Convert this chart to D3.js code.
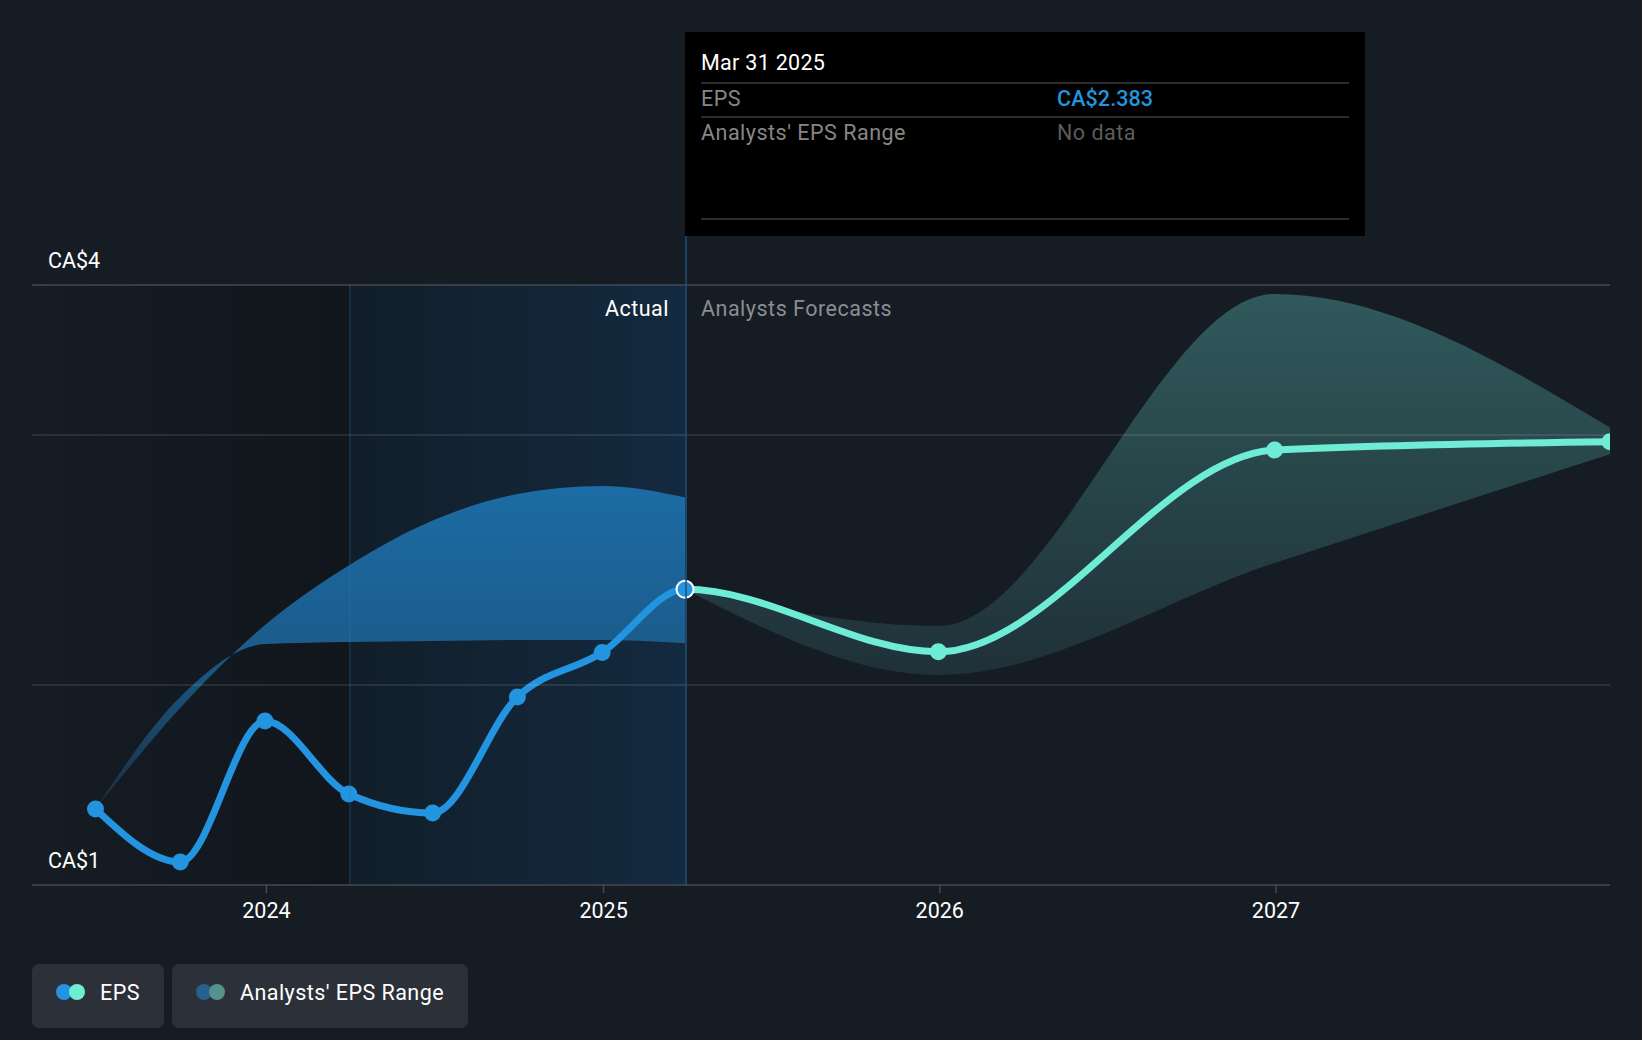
<!DOCTYPE html>
<html>
<head>
<meta charset="utf-8">
<script src="https://cdn.jsdelivr.net/npm/d3@7"></script>
<style>
  body { margin: 0; background: #151c24; }
  svg { display: block; }
  text { font-family: Roboto, sans-serif; }
  .tick text { font-family: Roboto, sans-serif; }
</style>
</head>
<body>
<div id="chart"></div>
<script>
  // Define SVG area dimensions
  var svgWidth = 1642;
  var svgHeight = 1040;

  var parseDate = d3.timeParse("%Y-%m-%d");

  // EPS, reported quarters then the yearly consensus forecast
  var epsData = [
    { date: "2023-06-30", eps: 1.38 },
    { date: "2023-09-30", eps: 1.115 },
    { date: "2023-12-31", eps: 1.82 },
    { date: "2024-03-31", eps: 1.455 },
    { date: "2024-06-30", eps: 1.36 },
    { date: "2024-09-30", eps: 1.94 },
    { date: "2024-12-31", eps: 2.13 },
    { date: "2025-03-31", eps: 2.383 },
    { date: "2025-12-31", eps: 2.133 },
    { date: "2026-12-31", eps: 2.94 },
    { date: "2027-12-31", eps: 2.973 }
  ];

  // Analysts' range over the actual period
  var pastRange = [
    { date: "2023-06-30", high: 1.38, low: 1.38 },
    { date: "2023-09-30", high: 1.885, low: 1.94 },
    { date: "2023-12-31", high: 2.24, low: 2.164 },
    { date: "2024-03-31", high: 2.478, low: 2.172 },
    { date: "2024-06-30", high: 2.658, low: 2.176 },
    { date: "2024-09-30", high: 2.764, low: 2.18 },
    { date: "2024-12-31", high: 2.796, low: 2.18 },
    { date: "2025-03-31", high: 2.75, low: 2.167 }
  ];

  // Analysts' range over the forecast period
  var forecastRange = [
    { date: "2025-03-31", high: 2.383, low: 2.383 },
    { date: "2025-12-31", high: 2.236, low: 2.04 },
    { date: "2026-12-31", high: 3.94, low: 2.488 },
    { date: "2027-12-31", high: 3.047, low: 2.924 }
  ];

  [epsData, pastRange, forecastRange].forEach(function(rows) {
    rows.forEach(function(d) { d.date = parseDate(d.date); });
  });

  var svg = d3.select("#chart")
    .append("svg")
    .attr("width", svgWidth)
    .attr("height", svgHeight);

  // Scales
  var xScale = d3.scaleTime()
    .domain([parseDate("2023-04-21"), parseDate("2027-12-29")])
    .range([31, 1609]);

  // the y axis of the source is not evenly spaced between its grid lines
  var yScale = d3.scaleLinear()
    .domain([1, 2, 3, 4])
    .range([885, 685, 435, 285]);

  var nowDate = parseDate("2025-03-31");
  var oneYearAgo = parseDate("2024-03-31");
  var plotLeft = 32;
  var plotRight = 1610;

  // Gradients
  var defs = svg.append("defs");

  function addGradient(id, x1, y1, x2, y2, stops) {
    var g = defs.append("linearGradient")
      .attr("id", id)
      .attr("gradientUnits", "userSpaceOnUse")
      .attr("x1", x1).attr("y1", y1)
      .attr("x2", x2).attr("y2", y2);
    stops.forEach(function(s) {
      g.append("stop").attr("offset", s[0]).attr("stop-color", s[1]);
    });
  }

  addGradient("pastShade", plotLeft, 0, xScale(oneYearAgo) + 1, 0,
    [[0, "#151c24"], [1, "#11161c"]]);
  addGradient("actualShade", xScale(oneYearAgo) + 1, 0, xScale(nowDate) + 1, 0,
    [[0, "#111e29"], [1, "#142a40"]]);
  addGradient("blueBand", 0, 486, 0, 808,
    [[0, "#1c6ca5"], [0.5, "#1b5c8b"], [1, "#1a2f42"]]);
  addGradient("tealBand", 0, 294, 0, 675,
    [[0, "#30595b"], [1, "#1f3138"]]);

  function addClip(id, x0, x1) {
    defs.append("clipPath").attr("id", id)
      .append("rect")
      .attr("x", x0).attr("y", 0)
      .attr("width", x1 - x0).attr("height", svgHeight);
  }

  addClip("plotClip", plotLeft, plotRight);
  addClip("actualClip", plotLeft, xScale(nowDate));
  addClip("forecastClip", xScale(nowDate), plotRight);

  // Shaded periods
  svg.append("rect")
    .attr("x", plotLeft)
    .attr("y", yScale(4))
    .attr("width", xScale(oneYearAgo) + 1 - plotLeft)
    .attr("height", yScale(1) - yScale(4))
    .attr("fill", "url(#pastShade)");

  svg.append("rect")
    .attr("x", xScale(oneYearAgo) + 1)
    .attr("y", yScale(4))
    .attr("width", xScale(nowDate) - xScale(oneYearAgo))
    .attr("height", yScale(1) - yScale(4))
    .attr("fill", "url(#actualShade)");

  // Analysts' range areas
  var rangeArea = d3.area()
    .x(d => xScale(d.date))
    .y0(d => yScale(d.low))
    .y1(d => yScale(d.high))
    .curve(d3.curveMonotoneX);

  var plot = svg.append("g").attr("clip-path", "url(#plotClip)");

  plot.append("path")
    .datum(pastRange)
    .attr("d", rangeArea)
    .attr("fill", "url(#blueBand)");

  plot.append("path")
    .datum(forecastRange)
    .attr("d", rangeArea)
    .attr("fill", "url(#tealBand)");

  // Grid lines
  svg.selectAll(".grid")
    .data([2, 3])
    .enter()
    .append("line")
    .attr("class", "grid")
    .attr("x1", plotLeft)
    .attr("x2", plotRight)
    .attr("y1", d => yScale(d))
    .attr("y2", d => yScale(d))
    .attr("stroke", "#ffffff")
    .attr("stroke-opacity", 0.13)
    .attr("stroke-width", 1.5);

  svg.selectAll(".edge")
    .data([1, 4])
    .enter()
    .append("line")
    .attr("class", "edge")
    .attr("x1", plotLeft)
    .attr("x2", plotRight)
    .attr("y1", d => yScale(d))
    .attr("y2", d => yScale(d))
    .attr("stroke", "#444952")
    .attr("stroke-width", 1.5);

  // Period dividers
  svg.append("line")
    .attr("x1", xScale(oneYearAgo) + 1).attr("x2", xScale(oneYearAgo) + 1)
    .attr("y1", yScale(4)).attr("y2", yScale(1))
    .attr("stroke", "#2f7ab5")
    .attr("stroke-opacity", 0.28)
    .attr("stroke-width", 1.5);

  svg.append("line")
    .attr("x1", xScale(nowDate) + 1).attr("x2", xScale(nowDate) + 1)
    .attr("y1", 236).attr("y2", yScale(1))
    .attr("stroke", "#1f5078")
    .attr("stroke-width", 1.5);

  // X axis
  var bottomAxis = d3.axisBottom(xScale)
    .tickValues([2024, 2025, 2026, 2027].map(y => new Date(y, 0, 1)))
    .tickFormat(d3.timeFormat("%Y"))
    .tickSize(8)
    .tickPadding(10);

  var xAxis = svg.append("g")
    .attr("transform", `translate(0, ${yScale(1)})`)
    .call(bottomAxis);

  xAxis.select(".domain").remove();
  xAxis.selectAll(".tick line").attr("stroke", "#444952").attr("stroke-width", 1.5);
  xAxis.selectAll(".tick text")
    .attr("fill", "#ffffff")
    .attr("font-size", 21.5);

  // Y labels sit above the line they belong to
  svg.selectAll(".yLabel")
    .data([1, 4])
    .enter()
    .append("text")
    .attr("class", "yLabel")
    .attr("x", 48)
    .attr("y", d => yScale(d) - 17)
    .attr("fill", "#ffffff")
    .attr("font-size", 21.5)
    .text(d => `CA$${d}`);

  // Period labels
  svg.append("text")
    .attr("x", xScale(nowDate) - 16)
    .attr("y", 316)
    .attr("text-anchor", "end")
    .attr("fill", "#ffffff")
    .attr("font-size", 21.5)
    .attr("letter-spacing", 0.5)
    .text("Actual");

  svg.append("text")
    .attr("x", xScale(nowDate) + 16)
    .attr("y", 316)
    .attr("fill", "#8a8d91")
    .attr("font-size", 21.5)
    .attr("letter-spacing", 0.5)
    .text("Analysts Forecasts");

  // EPS line, one curve coloured on either side of the last report
  var epsLine = d3.line()
    .x(d => xScale(d.date))
    .y(d => yScale(d.eps))
    .curve(d3.curveMonotoneX);

  plot.append("path")
    .datum(epsData)
    .attr("d", epsLine)
    .attr("clip-path", "url(#forecastClip)")
    .attr("fill", "none")
    .attr("stroke", "#6fecd6")
    .attr("stroke-width", 7);

  plot.append("path")
    .datum(epsData)
    .attr("d", epsLine)
    .attr("clip-path", "url(#actualClip)")
    .attr("fill", "none")
    .attr("stroke", "#2394df")
    .attr("stroke-width", 7);

  plot.selectAll(".epsDot")
    .data(epsData)
    .enter()
    .append("circle")
    .attr("class", "epsDot")
    .attr("cx", d => Math.min(xScale(d.date), plotRight))
    .attr("cy", d => yScale(d.eps))
    .attr("r", 8.5)
    .attr("fill", d => d.date > nowDate ? "#6fecd6" : "#2394df")
    .attr("stroke", d => d.date.getTime() === nowDate.getTime() ? "#ffffff" : "none")
    .attr("stroke-width", 2);

  // Tooltip
  var tooltip = svg.append("g").attr("class", "tooltip");

  tooltip.append("rect")
    .attr("x", 685).attr("y", 32)
    .attr("width", 680).attr("height", 204)
    .attr("fill", "#000000");

  tooltip.selectAll("line")
    .data([83, 117, 219])
    .enter()
    .append("line")
    .attr("x1", 701).attr("x2", 1349)
    .attr("y1", d => d).attr("y2", d => d)
    .attr("stroke", "#3a3a3a")
    .attr("stroke-width", 1.5);

  var tipRows = [
    { x: 701, y: 70, text: "Mar 31 2025", fill: "#ffffff", weight: 400, spacing: 0.3 },
    { x: 701, y: 106, text: "EPS", fill: "#868686", weight: 400, spacing: 0.45 },
    { x: 1057, y: 106, text: "CA$2.383", fill: "#2394df", weight: 500, spacing: 0.1 },
    { x: 701, y: 140, text: "Analysts' EPS Range", fill: "#868686", weight: 400, spacing: 0.5 },
    { x: 1057, y: 140, text: "No data", fill: "#5c5c5c", weight: 400, spacing: 0.5 }
  ];

  tooltip.selectAll("text")
    .data(tipRows)
    .enter()
    .append("text")
    .attr("x", d => d.x)
    .attr("y", d => d.y)
    .attr("fill", d => d.fill)
    .attr("font-weight", d => d.weight)
    .attr("letter-spacing", d => d.spacing)
    .attr("font-size", 21.5)
    .text(d => d.text);

  // Legend
  var legendItems = [
    { x: 32, w: 132, label: "EPS", colors: ["#2394df", "#6fecd6"] },
    { x: 172, w: 296, label: "Analysts' EPS Range", colors: ["#27608c", "#53938b"] }
  ];

  var legend = svg.selectAll(".legendItem")
    .data(legendItems)
    .enter()
    .append("g")
    .attr("class", "legendItem")
    .attr("transform", d => `translate(${d.x}, 964)`);

  legend.append("rect")
    .attr("width", d => d.w)
    .attr("height", 64)
    .attr("rx", 7)
    .attr("fill", "#2b3039");

  legend.append("circle")
    .attr("cx", 32).attr("cy", 28).attr("r", 8)
    .attr("fill", d => d.colors[0]);

  legend.append("circle")
    .attr("cx", 45).attr("cy", 28).attr("r", 8)
    .attr("fill", d => d.colors[1]);

  legend.append("text")
    .attr("x", 68)
    .attr("y", 36)
    .attr("fill", "#ffffff")
    .attr("font-size", 21.5)
    .attr("letter-spacing", 0.45)
    .text(d => d.label);
</script>
</body>
</html>
